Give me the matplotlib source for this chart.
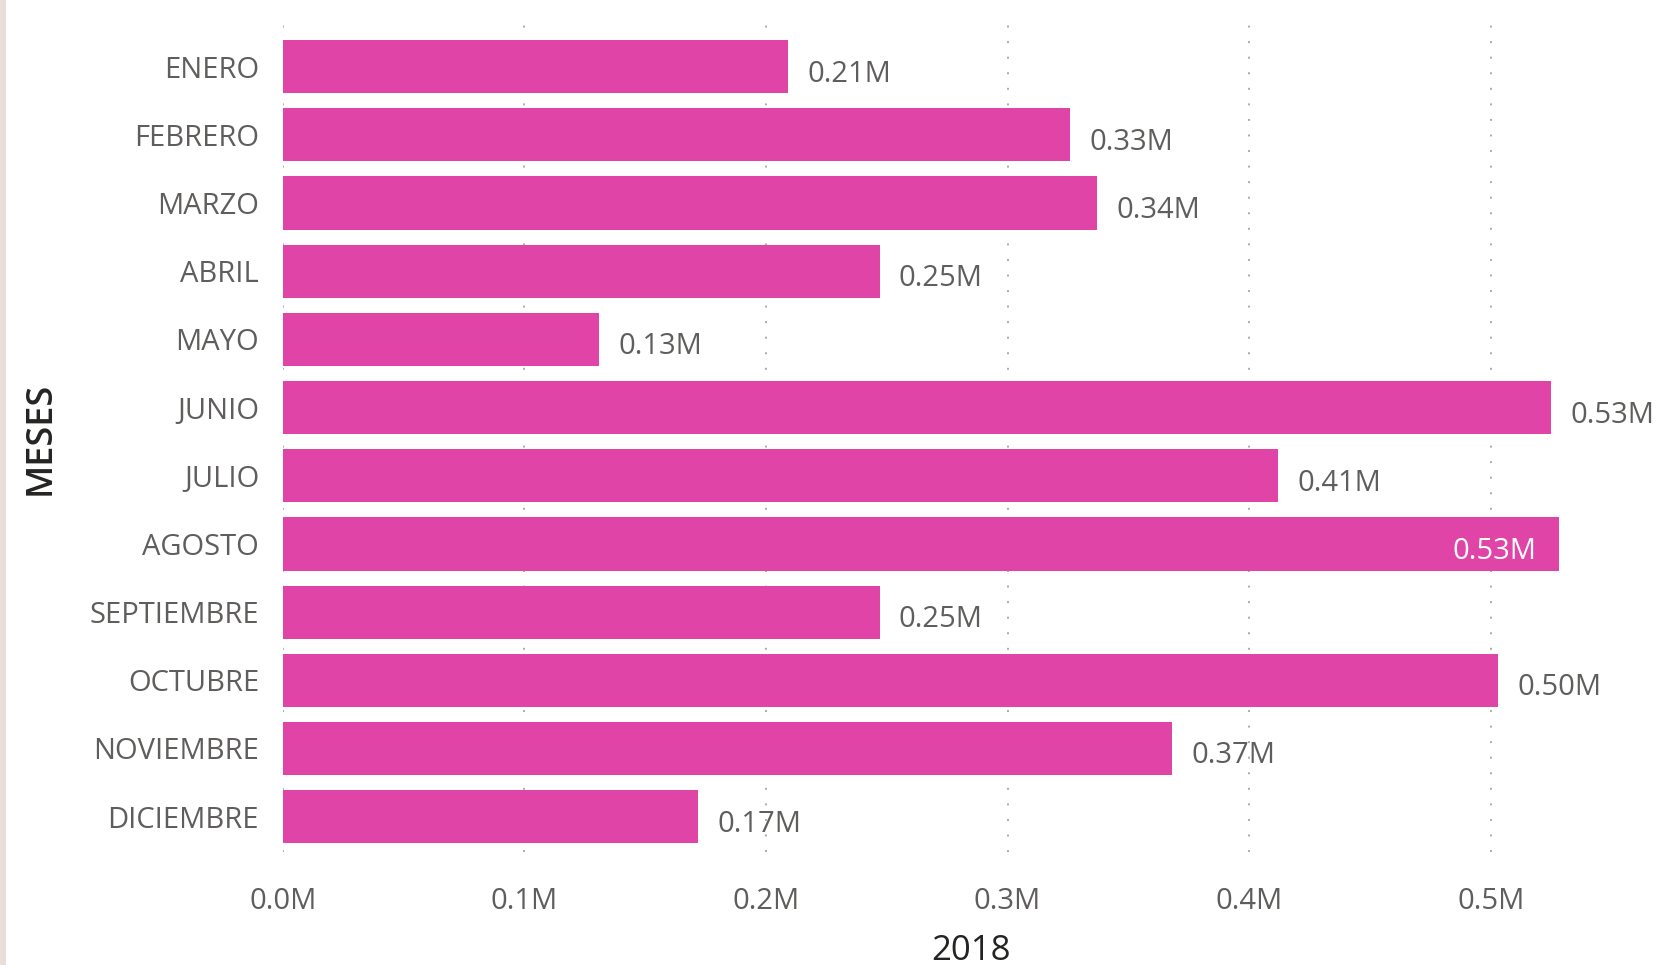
import matplotlib
matplotlib.use('Agg')
import matplotlib.pyplot as plt
from matplotlib.patches import Rectangle

plt.rcParams['font.family'] = ['Open Sans', 'DejaVu Sans']

meses = ['ENERO', 'FEBRERO', 'MARZO', 'ABRIL', 'MAYO', 'JUNIO', 'JULIO',
         'AGOSTO', 'SEPTIEMBRE', 'OCTUBRE', 'NOVIEMBRE', 'DICIEMBRE']
ventas = [0.209, 0.326, 0.337, 0.247, 0.131, 0.525, 0.412,
          0.528, 0.247, 0.503, 0.368, 0.172]  # millones
x_ticks = [0.0, 0.1, 0.2, 0.3, 0.4, 0.5]
x_tick_labels = ['0.0M', '0.1M', '0.2M', '0.3M', '0.4M', '0.5M']

bar_color = '#E044A7'
text_grey = '#605E5C'
title_dark = '#252423'

fig = plt.figure(figsize=(16.6, 9.65), dpi=100)
fig.patches.append(Rectangle((0, 0), 6 / 1660, 1, transform=fig.transFigure,
                             facecolor='#E8DEDB', edgecolor='none'))

ax = fig.add_axes([0.1703, 0.117, 0.8297, 0.8697])
y = list(range(len(meses)))
ax.barh(y, ventas, height=0.78, color=bar_color, zorder=2)

ax.set_xlim(0, 0.570)
ax.set_ylim(11.52, -0.79)

ax.set_xticks(x_ticks)
ax.set_xticklabels(x_tick_labels)
ax.set_yticks(y)
ax.set_yticklabels(meses)
ax.tick_params(axis='both', length=0, labelsize=21, labelcolor=text_grey)
ax.tick_params(axis='y', pad=17)
ax.tick_params(axis='x', pad=25)

ax.grid(axis='x', color='#ABABAB', linestyle=(0, (1, 7)), linewidth=1.4, zorder=0)
ax.set_axisbelow(True)
for s in ax.spines.values():
    s.set_visible(False)

# etiquetas de datos: fuera de la barra, salvo cuando no caben
for i, v in enumerate(ventas):
    label = f'{v:.2f}M'
    if v > 0.527:
        ax.text(v - 0.009, i + 0.11, label, ha='right', va='center',
                fontsize=21, color='white', zorder=3)
    else:
        ax.text(v + 0.008, i + 0.11, label, ha='left', va='center',
                fontsize=21, color=text_grey, zorder=3)

ax.set_xlabel('2018', fontsize=25, color=title_dark, labelpad=13)
ax.set_ylabel('MESES', fontsize=26, color=title_dark, fontweight='semibold')
ax.yaxis.set_label_coords(-0.163, 0.493)

fig.savefig('out.png', dpi=100)
